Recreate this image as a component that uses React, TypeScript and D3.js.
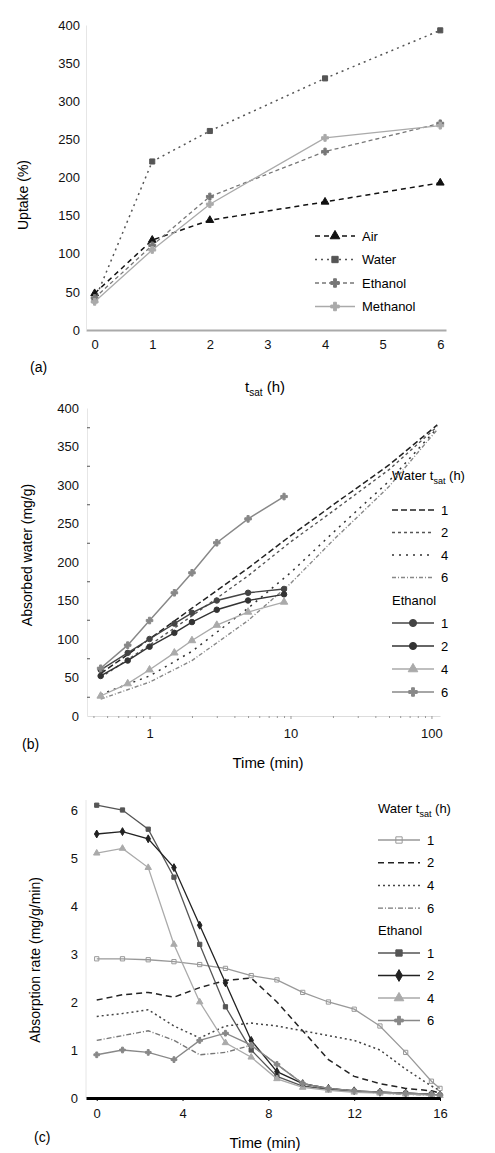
import React, { useEffect, useRef } from 'react';
import * as d3 from 'd3';

const W = 495;
const H = 1153;
const FONT = '"Liberation Sans", Arial, sans-serif';

// panel (a): value vs saturation time
const aHours = [0, 1, 2, 4, 6];
const aAir = [48, 118, 144, 168, 193];
const aWater = [39, 221, 261, 330, 393];
const aEthanol = [42, 111, 175, 234, 271];
const aMethanol = [37, 105, 165, 252, 268];
const aNames = ['Air', 'Water', 'Ethanol', 'Methanol'];
const aYTicks = [0, 50, 100, 150, 200, 250, 300, 350, 400];
const aXTicks = [0, 1, 2, 3, 4, 5, 6];

// panel (b): cumulative curves vs time (log)
const bWaterTime = [0.45, 1, 2, 5, 10, 20, 50, 110];
const bWater1 = [55, 100, 140, 192, 234, 274, 326, 378];
const bWater2 = [50, 92, 130, 182, 226, 266, 320, 376];
const bWater3 = [28, 52, 84, 140, 186, 238, 305, 374];
const bWater4 = [22, 44, 72, 124, 172, 228, 298, 372];
const bEthTime = [0.45, 0.7, 1, 1.5, 2, 3, 5, 9];
const bEth1 = [60, 82, 100, 120, 134, 150, 160, 165];
const bEth2 = [52, 72, 90, 108, 122, 138, 150, 158];
const bEth3 = [26, 42, 60, 82, 98, 118, 135, 148];
const bEth4 = [62, 92, 124, 160, 186, 225, 256, 285];
const bYTicks = [0, 50, 100, 150, 200, 250, 300, 350, 400];
const bXTicks = [1, 10, 100];
const satLabels = ['1', '2', '4', '6'];

// panel (c): rate vs time
const cTime = [0, 1.2, 2.4, 3.6, 4.8, 6, 7.2, 8.4, 9.6, 10.8, 12, 13.2, 14.4, 15.6, 16];
const cWater1 = [2.9, 2.9, 2.88, 2.84, 2.78, 2.7, 2.55, 2.46, 2.2, 2.0, 1.85, 1.5, 0.95, 0.35, 0.2];
const cWater2 = [2.04, 2.15, 2.2, 2.1, 2.3, 2.45, 2.5, 2.0, 1.4, 0.8, 0.45, 0.3, 0.2, 0.15, 0.1];
const cWater3 = [1.7, 1.76, 1.84, 1.5, 1.25, 1.5, 1.56, 1.5, 1.4, 1.3, 1.2, 1.0, 0.6, 0.25, 0.15];
const cWater4 = [1.2, 1.3, 1.4, 1.2, 0.9, 0.95, 1.1, 0.7, 0.3, 0.2, 0.15, 0.1, 0.08, 0.06, 0.05];
const cEth1 = [6.1, 6.0, 5.6, 4.6, 3.2, 1.9, 1.0, 0.45, 0.25, 0.18, 0.14, 0.12, 0.1, 0.08, 0.06];
const cEth2 = [5.5, 5.55, 5.4, 4.8, 3.6, 2.4, 1.2, 0.55, 0.3, 0.2, 0.15, 0.12, 0.1, 0.08, 0.06];
const cEth3 = [5.1, 5.2, 4.8, 3.2, 2.0, 1.15, 0.85, 0.4, 0.22, 0.16, 0.12, 0.1, 0.08, 0.06, 0.05];
const cEth4 = [0.9, 1.0, 0.95, 0.8, 1.2, 1.35, 1.1, 0.7, 0.3, 0.2, 0.15, 0.12, 0.1, 0.08, 0.06];
const cYTicks = [0, 1, 2, 3, 4, 5, 6];
const cXTicks = [0, 4, 8, 12, 16];

type Style = { color: string; dash: string; width: number; symbol?: d3.SymbolType; fill?: string };

const App = () => {
  const ref = useRef<SVGSVGElement>(null);

  useEffect(() => {
    const svg = d3.select(ref.current);
    svg.selectAll('*').remove();

    const drawSeries = (g: any, xs: number[], ys: number[], x: any, y: any, st: Style, size = 30) => {
      const pts = xs.map((v, i) => [x(v), y(ys[i])] as [number, number]);
      g.append('path')
        .attr('d', d3.line()(pts))
        .attr('fill', 'none')
        .attr('stroke', st.color)
        .attr('stroke-width', st.width)
        .attr('stroke-dasharray', st.dash);
      if (st.symbol) {
        g.selectAll(null)
          .data(pts)
          .enter()
          .append('path')
          .attr('d', d3.symbol().type(st.symbol).size(size)())
          .attr('transform', (p: number[]) => `translate(${p[0]},${p[1]})`)
          .attr('fill', st.fill ?? st.color)
          .attr('stroke', st.color)
          .attr('stroke-width', 1);
      }
    };

    const legendRow = (g: any, x0: number, y0: number, st: Style, label: string, len = 42) => {
      g.append('line')
        .attr('x1', x0).attr('x2', x0 + len).attr('y1', y0).attr('y2', y0)
        .attr('stroke', st.color).attr('stroke-width', st.width).attr('stroke-dasharray', st.dash);
      if (st.symbol) {
        g.append('path')
          .attr('d', d3.symbol().type(st.symbol).size(40)())
          .attr('transform', `translate(${x0 + len / 2},${y0})`)
          .attr('fill', st.fill ?? st.color)
          .attr('stroke', st.color);
      }
      g.append('text')
        .attr('x', x0 + len + 7).attr('y', y0 + 4.5)
        .attr('font-size', 13).attr('font-family', FONT)
        .text(label);
    };

    const styleAxis = (sel: any, color: string) => {
      sel.selectAll('text').attr('font-size', 13).attr('font-family', FONT).attr('fill', '#111');
      sel.select('.domain').attr('stroke', color);
      sel.selectAll('.tick line').attr('stroke', color);
    };

    // ---------- panel (a)
    const ga = svg.append('g');
    const xa = d3.scaleLinear().domain([-0.15, 6.1]).range([86, 446]);
    const ya = d3.scaleLinear().domain([0, 400]).range([330, 25]);
    const ax = ga.append('g').attr('transform', 'translate(0,330)')
      .call(d3.axisBottom(xa).tickValues(aXTicks).tickFormat(d3.format('d')).tickSize(0).tickPadding(10).tickSizeOuter(0));
    styleAxis(ax, '#aaa');
    ax.select('.domain').attr('stroke-width', 2);
    const ay = ga.append('g').attr('transform', 'translate(86,0)')
      .call(d3.axisLeft(ya).tickValues(aYTicks).tickFormat(d3.format('d')).tickSize(0).tickPadding(6).tickSizeOuter(0));
    styleAxis(ay, '#e6e6e6');

    const aStyles: Style[] = [
      { color: '#111', dash: '5,4', width: 1.5, symbol: d3.symbolTriangle },
      { color: '#555', dash: '2,4', width: 1.5, symbol: d3.symbolSquare },
      { color: '#777', dash: '4,3', width: 1.3, symbol: d3.symbolCross },
      { color: '#aaa', dash: '', width: 1.3, symbol: d3.symbolCross },
    ];
    [aAir, aWater, aEthanol, aMethanol].forEach((s, i) => drawSeries(ga, aHours, s, xa, ya, aStyles[i], 26));
    aNames.forEach((n, i) => legendRow(ga, 315, 236 + i * 23.5, aStyles[i], n, 40));

    ga.append('text').attr('x', 265).attr('y', 392).attr('text-anchor', 'middle')
      .attr('font-size', 15).attr('font-family', FONT)
      .html('t<tspan dy="4" font-size="10">sat</tspan><tspan dy="-4"> (h)</tspan>');
    ga.append('text').attr('transform', 'translate(28,195) rotate(-90)').attr('text-anchor', 'middle')
      .attr('font-size', 14).attr('font-family', FONT).text('Uptake (%)');
    ga.append('text').attr('x', 30).attr('y', 372).attr('font-size', 14).attr('font-family', FONT).text('(a)');

    // ---------- panel (b)
    const gb = svg.append('g');
    const xb = d3.scaleLog().domain([0.36, 115]).range([87, 440]);
    const yb = d3.scaleLinear().domain([0, 400]).range([716, 408]);
    const bx = gb.append('g').attr('transform', 'translate(0,716)')
      .call(d3.axisBottom(xb).tickValues(bXTicks).tickFormat(d3.format('d')).tickSize(3).tickPadding(10).tickSizeOuter(0));
    styleAxis(bx, '#999');
    bx.select('.domain').attr('stroke', '#ddd');
    gb.append('g').attr('transform', 'translate(0,716)')
      .call(d3.axisBottom(xb).tickValues(xb.ticks().filter((t: number) => !bXTicks.includes(t))).tickSize(2).tickFormat(() => '').tickSizeOuter(0))
      .call((s: any) => { s.select('.domain').remove(); s.selectAll('line').attr('stroke', '#999'); });
    const by = gb.append('g').attr('transform', 'translate(87,0)')
      .call(d3.axisLeft(yb).tickValues(bYTicks).tickSize(0).tickPadding(8).tickSizeOuter(0));
    styleAxis(by, '#e6e6e6');
    gb.append('g').attr('transform', 'translate(87,0)')
      .call(d3.axisRight(yb).tickValues(d3.range(25, 400, 50)).tickSize(3).tickFormat(() => '').tickSizeOuter(0))
      .call((s: any) => { s.select('.domain').remove(); s.selectAll('line').attr('stroke', '#555'); });

    const bWStyles: Style[] = [
      { color: '#222', dash: '6,3', width: 1.5 },
      { color: '#555', dash: '3,3', width: 1.4 },
      { color: '#333', dash: '2,5', width: 1.5 },
      { color: '#888', dash: '4,2,1,2', width: 1.4 },
    ];
    const bEStyles: Style[] = [
      { color: '#444', dash: '', width: 1.4, symbol: d3.symbolCircle },
      { color: '#333', dash: '', width: 1.4, symbol: d3.symbolCircle },
      { color: '#aaa', dash: '', width: 1.3, symbol: d3.symbolTriangle },
      { color: '#888', dash: '', width: 1.5, symbol: d3.symbolCross },
    ];
    [bWater1, bWater2, bWater3, bWater4].forEach((s, i) => drawSeries(gb, bWaterTime, s, xb, yb, bWStyles[i]));
    [bEth1, bEth2, bEth3, bEth4].forEach((s, i) => drawSeries(gb, bEthTime, s, xb, yb, bEStyles[i], 24));

    gb.append('text').attr('x', 392).attr('y', 480).attr('font-size', 13).attr('font-family', FONT)
      .html('Water t<tspan dy="4" font-size="9">sat</tspan><tspan dy="-4"> (h)</tspan>');
    bWStyles.forEach((st, i) => legendRow(gb, 392, 510 + i * 22.5, st, satLabels[i], 42));
    gb.append('text').attr('x', 392).attr('y', 605).attr('font-size', 13).attr('font-family', FONT).text('Ethanol');
    bEStyles.forEach((st, i) => legendRow(gb, 392, 623 + i * 23, st, satLabels[i], 42));

    gb.append('text').attr('x', 268).attr('y', 768).attr('text-anchor', 'middle')
      .attr('font-size', 15).attr('font-family', FONT).text('Time (min)');
    gb.append('text').attr('transform', 'translate(32,555) rotate(-90)').attr('text-anchor', 'middle')
      .attr('font-size', 14).attr('font-family', FONT).text('Absorbed water (mg/g)');
    gb.append('text').attr('x', 22).attr('y', 749).attr('font-size', 14).attr('font-family', FONT).text('(b)');

    // ---------- panel (c)
    const gc = svg.append('g');
    const xc = d3.scaleLinear().domain([-0.5, 16]).range([86, 440]);
    const yc = d3.scaleLinear().domain([0, 6]).range([1098, 810]);
    const cy = gc.append('g').attr('transform', 'translate(86,0)')
      .call(d3.axisLeft(yc).tickValues(cYTicks).tickFormat(d3.format('d')).tickSize(0).tickPadding(8).tickSizeOuter(0));
    styleAxis(cy, '#e6e6e6');
    cy.select('.domain').attr('d', 'M0,1098V800');

    const cWStyles: Style[] = [
      { color: '#999', dash: '', width: 1.3, symbol: d3.symbolSquare, fill: 'none' },
      { color: '#222', dash: '6,4', width: 1.5 },
      { color: '#444', dash: '2,3', width: 1.5 },
      { color: '#777', dash: '5,2,1,2', width: 1.4 },
    ];
    const cEStyles: Style[] = [
      { color: '#555', dash: '', width: 1.3, symbol: d3.symbolSquare },
      { color: '#222', dash: '', width: 1.3, symbol: d3.symbolDiamond },
      { color: '#aaa', dash: '', width: 1.3, symbol: d3.symbolTriangle },
      { color: '#888', dash: '', width: 1.4, symbol: d3.symbolCross },
    ];
    [cWater1, cWater2, cWater3, cWater4].forEach((s, i) => drawSeries(gc, cTime, s, xc, yc, cWStyles[i], 18));
    [cEth1, cEth2, cEth3, cEth4].forEach((s, i) => drawSeries(gc, cTime, s, xc, yc, cEStyles[i], 18));

    const cx = gc.append('g').attr('transform', 'translate(0,1098)')
      .call(d3.axisBottom(xc).tickValues(cXTicks).tickSize(3).tickPadding(8).tickSizeOuter(0));
    styleAxis(cx, '#000');
    cx.select('.domain').attr('stroke-width', 3);

    gc.append('text').attr('x', 378).attr('y', 813).attr('font-size', 13).attr('font-family', FONT)
      .html('Water t<tspan dy="4" font-size="9">sat</tspan><tspan dy="-4"> (h)</tspan>');
    cWStyles.forEach((st, i) => legendRow(gc, 378, 840 + i * 22.7, st, satLabels[i], 42));
    gc.append('text').attr('x', 378).attr('y', 935).attr('font-size', 13).attr('font-family', FONT).text('Ethanol');
    cEStyles.forEach((st, i) => legendRow(gc, 378, 953 + i * 22.5, st, satLabels[i], 42));

    gc.append('text').attr('x', 265).attr('y', 1148).attr('text-anchor', 'middle')
      .attr('font-size', 15).attr('font-family', FONT).text('Time (min)');
    gc.append('text').attr('transform', 'translate(40,960) rotate(-90)').attr('text-anchor', 'middle')
      .attr('font-size', 14).attr('font-family', FONT).text('Absorption rate (mg/g/min)');
    gc.append('text').attr('x', 34).attr('y', 1142).attr('font-size', 14).attr('font-family', FONT).text('(c)');
  }, []);

  return (
    <svg ref={ref} width={W} height={H}
      style={{ position: 'absolute', left: 0, top: 0, background: '#fff' }} />
  );
};

export default App;
